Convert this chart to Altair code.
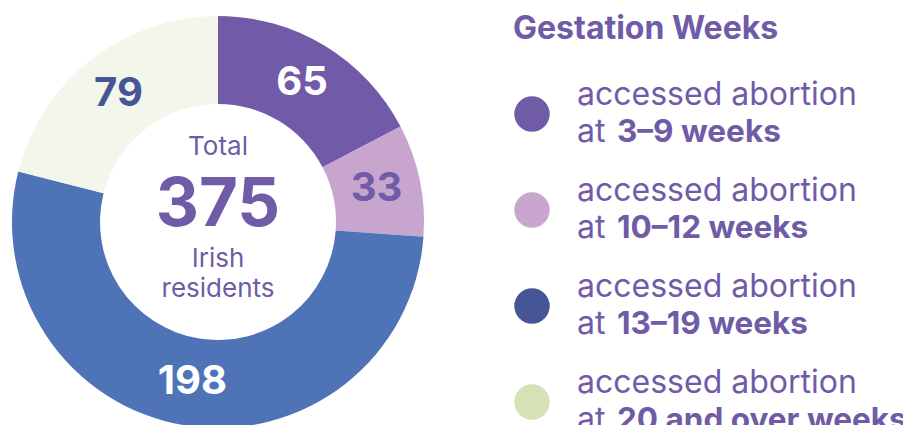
import altair as alt
import pandas as pd

# ---- data ----
categories = ["3–9 weeks", "10–12 weeks", "13–19 weeks", "20 and over weeks"]
values = [65, 33, 198, 79]
slice_colors = ["#715ba8", "#c8a5cf", "#4e73b7", "#f3f7eb"]
legend_colors = ["#705ba7", "#c9a6ce", "#465596", "#d4e2b6"]
label_colors = ["#ffffff", "#705ba7", "#ffffff", "#465596"]
legend_title = "Gestation Weeks"
legend_line1 = "accessed abortion"
legend_prefix = "at "
center_top = "Total"
center_bottom = ["Irish", "residents"]

PURPLE = "#705ba7"
FONT = "Inter"

df = pd.DataFrame({
    "cat": categories,
    "value": values,
    "idx": list(range(len(categories))),
    "line1": [legend_line1] * len(categories),
    "prefix": [legend_prefix] * len(categories),
})
total = int(sum(values))

CX, CY = 210, 214
R_OUT, R_IN = 206, 118

base = alt.Chart(df)

arc = base.mark_arc(innerRadius=R_IN, outerRadius=R_OUT, strokeWidth=0).encode(
    theta=alt.Theta("value:Q", stack=True),
    order=alt.Order("idx:Q"),
    color=alt.Color("cat:N", scale=alt.Scale(domain=categories, range=slice_colors), legend=None),
    x=alt.value(CX),
    y=alt.value(CY),
)

labels = base.mark_text(font=FONT, fontSize=40, fontWeight="bold", baseline="middle", align="center").encode(
    theta=alt.Theta("value:Q", stack=True),
    order=alt.Order("idx:Q"),
    radius=alt.value((R_IN + R_OUT) / 2),
    text=alt.Text("value:Q"),
    color=alt.Color("cat:N", scale=alt.Scale(domain=categories, range=label_colors), legend=None),
    x=alt.value(CX),
    y=alt.value(CY),
)

one = alt.Chart(pd.DataFrame({"t": [0]}))
c_total = one.mark_text(font=FONT, fontSize=26, color=PURPLE, align="center", baseline="alphabetic",
                        text=center_top).encode(x=alt.value(CX), y=alt.value(147))
c_num = one.mark_text(font=FONT, fontSize=67, fontWeight="bold", color=PURPLE, align="center",
                      baseline="alphabetic", text=str(total)).encode(x=alt.value(CX), y=alt.value(218))
c_l1 = one.mark_text(font=FONT, fontSize=26, color=PURPLE, align="center", baseline="alphabetic",
                     text=center_bottom[0]).encode(x=alt.value(CX), y=alt.value(259))
c_l2 = one.mark_text(font=FONT, fontSize=26, color=PURPLE, align="center", baseline="alphabetic",
                     text=center_bottom[1]).encode(x=alt.value(CX), y=alt.value(289))

title = one.mark_text(font=FONT, fontSize=32, fontWeight="bold", color=PURPLE, align="left",
                      baseline="alphabetic", text=legend_title).encode(x=alt.value(505), y=alt.value(31))

yenc = alt.Y("cat:N", scale=alt.Scale(type="point", domain=categories, range=[97, 385], padding=0), axis=None)

dots = base.mark_circle(size=1257, opacity=1, yOffset=9).encode(
    x=alt.value(524),
    y=yenc,
    color=alt.Color("cat:N", scale=alt.Scale(domain=categories, range=legend_colors), legend=None),
)

line1 = base.mark_text(font=FONT, fontSize=32, color=PURPLE, align="left", baseline="alphabetic").encode(
    x=alt.value(569), y=yenc, text="line1:N")
line2a = base.mark_text(font=FONT, fontSize=32, color=PURPLE, align="left", baseline="alphabetic",
                        yOffset=37).encode(x=alt.value(569), y=yenc, text="prefix:N")
line2b = base.mark_text(font=FONT, fontSize=31.5, fontWeight="bold", color=PURPLE, align="left",
                        baseline="alphabetic", yOffset=37).encode(x=alt.value(609), y=yenc, text="cat:N")

chart = alt.layer(arc, labels, c_total, c_num, c_l1, c_l2, title, dots, line1, line2a, line2b).resolve_scale(
    color="independent"
).properties(
    width=895, height=417, padding=0,
    autosize=alt.AutoSizeParams(type="fit", contains="padding"),
    background="white",
).configure_view(stroke=None)

chart.save("out.html", embed_options={"renderer": "svg", "actions": False})
